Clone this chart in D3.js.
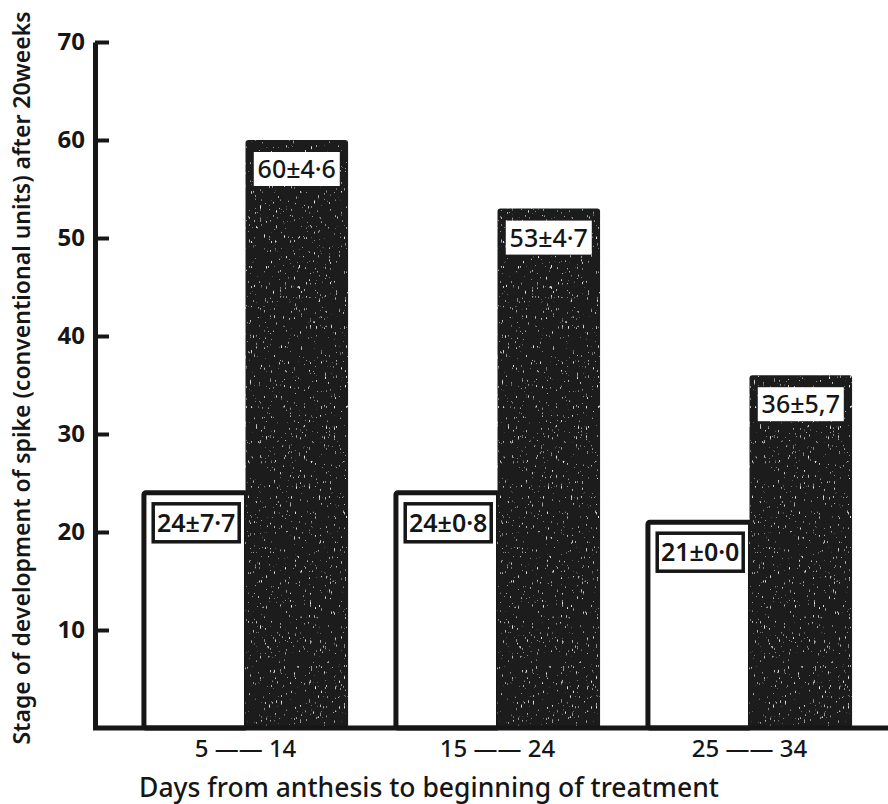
<!DOCTYPE html>
<html>
<head>
<meta charset="utf-8">
<script src="https://cdn.jsdelivr.net/npm/d3@7"></script>
<style>
  body { margin: 0; background: #fff; }
  svg { display: block; font-family: "Noto Sans", sans-serif; }
</style>
</head>
<body>
<script>
// data
const categories = ['5 —— 14', '15 —— 24', '25 —— 34'];
const whiteValues = [24, 24, 21];
const darkValues = [60, 53, 36];
const whiteLabels = ['24±7·7', '24±0·8', '21±0·0'];
const darkLabels = ['60±4·6', '53±4·7', '36±5,7'];
const yTicks = [10, 20, 30, 40, 50, 60, 70];

const width = 888;
const height = 804;

const svg = d3.select('body')
  .append('svg')
  .attr('width', width)
  .attr('height', height);

// sparse speckle texture for the dark bars
const defs = svg.append('defs');
const speckle = defs.append('filter').attr('id', 'speckle')
  .attr('x', 0).attr('y', 0).attr('width', 1).attr('height', 1);
speckle.append('feTurbulence')
  .attr('type', 'fractalNoise')
  .attr('baseFrequency', '0.8 0.2')
  .attr('numOctaves', 2)
  .attr('seed', 3)
  .attr('result', 'noise');
speckle.append('feColorMatrix')
  .attr('in', 'noise')
  .attr('type', 'matrix')
  .attr('values', '0 0 0 0 0.85  0 0 0 0 0.85  0 0 0 0 0.85  0 0 0 7 -4.9')
  .attr('result', 'dots');
speckle.append('feComposite')
  .attr('in', 'dots').attr('in2', 'SourceGraphic')
  .attr('operator', 'in').attr('result', 'dotsIn');
const merge = speckle.append('feMerge');
merge.append('feMergeNode').attr('in', 'SourceGraphic');
merge.append('feMergeNode').attr('in', 'dotsIn');

const y = d3.scaleLinear().domain([0, 70]).range([728, 42]);

const x = d3.scaleBand()
  .domain(categories)
  .range([119.5, 875.5])
  .paddingInner(0.186)
  .paddingOuter(0.093);

const xSub = d3.scaleBand()
  .domain(['white', 'dark'])
  .range([0, x.bandwidth()]);

const groups = svg.append('g')
  .selectAll('g')
  .data(categories)
  .join('g')
  .attr('transform', (d) => `translate(${x(d)},0)`);

// white bars (outlined)
groups.append('rect')
  .attr('x', xSub('white') + 1)
  .attr('y', (d, i) => y(whiteValues[i]))
  .attr('width', xSub.bandwidth())
  .attr('height', (d, i) => y(0) - y(whiteValues[i]))
  .attr('rx', 2)
  .attr('fill', '#fff')
  .attr('stroke', '#161616')
  .attr('stroke-width', 5);

// dark bars
groups.append('rect')
  .attr('x', xSub('dark'))
  .attr('y', (d, i) => y(darkValues[i]))
  .attr('width', xSub.bandwidth())
  .attr('height', (d, i) => y(0) - y(darkValues[i]))
  .attr('rx', 3)
  .attr('fill', '#1c1f1d')
  .attr('filter', 'url(#speckle)');

// labels in white bars
const boxW = 86;
groups.append('rect')
  .attr('x', xSub('white') + xSub.bandwidth() / 2 - boxW / 2 + 2)
  .attr('y', (d, i) => y(whiteValues[i]) + 11)
  .attr('width', boxW)
  .attr('height', 38)
  .attr('fill', '#fff')
  .attr('stroke', '#161616')
  .attr('stroke-width', 3.5);

groups.append('text')
  .attr('x', xSub('white') + xSub.bandwidth() / 2 + 2)
  .attr('y', (d, i) => y(whiteValues[i]) + 39)
  .attr('text-anchor', 'middle')
  .attr('font-size', 25)
  .attr('font-weight', 600)
  .attr('fill', '#161616')
  .text((d, i) => whiteLabels[i]);

// labels in dark bars
groups.append('rect')
  .attr('x', xSub('dark') + xSub.bandwidth() / 2 - boxW / 2)
  .attr('y', (d, i) => y(darkValues[i]) + 12)
  .attr('width', boxW)
  .attr('height', 34)
  .attr('fill', '#fff');

groups.append('text')
  .attr('x', xSub('dark') + xSub.bandwidth() / 2)
  .attr('y', (d, i) => y(darkValues[i]) + 38)
  .attr('text-anchor', 'middle')
  .attr('font-size', 25)
  .attr('font-weight', 500)
  .attr('fill', '#161616')
  .text((d, i) => darkLabels[i]);

// y axis
const yAxis = svg.append('g')
  .attr('transform', 'translate(95,0)')
  .call(d3.axisLeft(y)
    .tickValues(yTicks)
    .tickSizeInner(-14)
    .tickSizeOuter(0)
    .tickPadding(10));
yAxis.select('.domain').attr('stroke', '#161616').attr('stroke-width', 5);
yAxis.selectAll('.tick line').attr('stroke', '#161616').attr('stroke-width', 4);
yAxis.selectAll('.tick text')
  .attr('font-size', 24)
  .attr('font-weight', 700)
  .attr('font-family', '"Noto Sans", sans-serif')
  .attr('fill', '#161616');

// x axis
const xAxis = svg.append('g')
  .attr('transform', `translate(0,${y(0)})`)
  .call(d3.axisBottom(x).tickSize(0).tickPadding(12));
xAxis.select('.domain')
  .attr('d', `M93,0H${width}`)
  .attr('stroke', '#161616')
  .attr('stroke-width', 5);
xAxis.selectAll('.tick text')
  .attr('font-size', 24)
  .attr('font-weight', 500)
  .attr('font-family', '"Noto Sans", sans-serif')
  .attr('fill', '#161616');

// axis titles
svg.append('text')
  .attr('x', 429)
  .attr('y', 797)
  .attr('text-anchor', 'middle')
  .attr('font-size', 26.5)
  .attr('font-weight', 500)
  .attr('fill', '#161616')
  .text('Days from anthesis to beginning of treatment');

svg.append('text')
  .attr('transform', 'translate(30,378) rotate(-90)')
  .attr('text-anchor', 'middle')
  .attr('font-size', 23)
  .attr('font-weight', 600)
  .attr('fill', '#161616')
  .text('Stage of development of spike (conventional units) after 20weeks');
</script>
</body>
</html>
